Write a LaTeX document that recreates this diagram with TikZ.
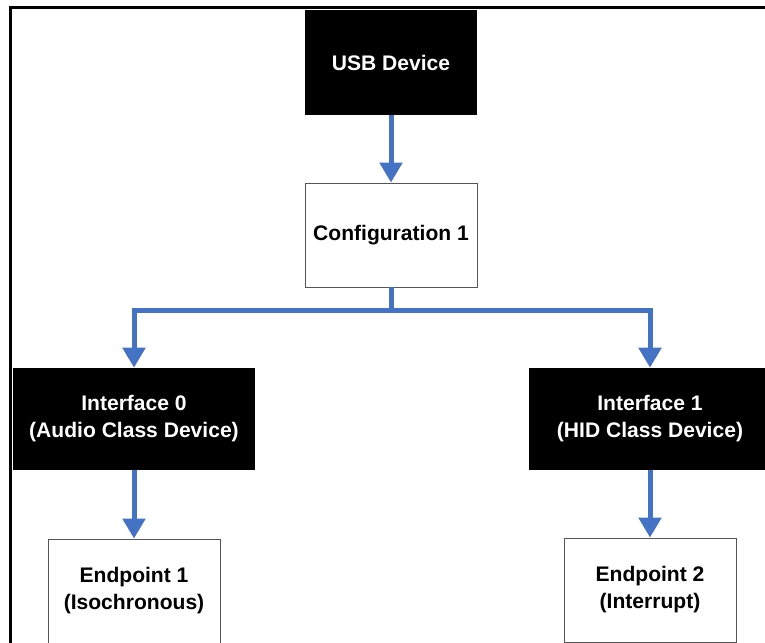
\documentclass[tikz,border=0pt]{standalone}
\usepackage{fontspec}
\setmainfont{Liberation Sans}
\usepackage{tikz}
\usetikzlibrary{arrows.meta,positioning}
\definecolor{usbblue}{HTML}{4472C4}
\definecolor{boxgray}{HTML}{555555}

\begin{document}
\begin{tikzpicture}[x=0.75pt, y=-0.75pt, every node/.style={font=\fontsize{15.8}{20.3}\selectfont\bfseries, align=center, inner sep=0pt}, darkbox/.style={fill=black, text=white, minimum width=129pt, minimum height=78.75pt}, widebox/.style={darkbox, minimum width=181.5pt, minimum height=76.5pt}, lightbox/.style={draw=boxgray, line width=0.6pt, fill=white, minimum width=129pt, minimum height=78pt}, arr/.style={usbblue, line width=3.75pt, -{Triangle[width=16.5pt,length=15pt]}}]
    \clip (0,0) rectangle (765,643);
    % frame
    \draw[line width=2.25pt] (10.5,643) -- (10.5,7.8) -- (770,7.8);

    \node[darkbox] (usb) at (391,62.5) {USB Device};
    \node[lightbox] (cfg) at (391,235) {Configuration 1};
    \node[widebox] (if0) at (134,419) {Interface 0\\(Audio Class Device)};
    \node[widebox] (if1) at (650,419) {Interface 1\\(HID Class Device)};
    \node[lightbox] (ep1) at (134,591) {Endpoint 1\\(Isochronous)};
    \node[lightbox] (ep2) at (650,590) {Endpoint 2\\(Interrupt)};
    \coordinate (split) at (391,310);

    \draw[arr] (usb.south) -- (cfg.north);
    \draw[usbblue, line width=3.75pt] (cfg.south) -- (split);
    \draw[arr] (split) -| (if0.north);
    \draw[arr] (split) -| (if1.north);
    \draw[arr] (if0.south) -- (ep1.north);
    \draw[arr] (if1.south) -- (ep2.north);
\end{tikzpicture}
\end{document}
